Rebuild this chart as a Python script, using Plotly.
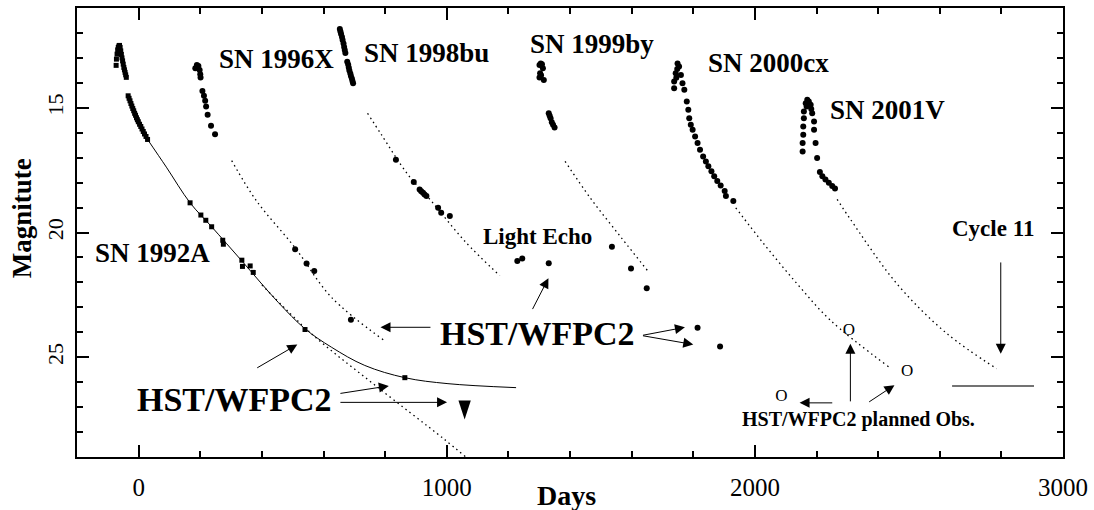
import plotly.graph_objects as go

FONT = "Liberation Serif"

# ---------------- data (days, magnitude) ----------------
sn92_day = [-73, -72, -70, -68, -66, -64, -62, -60, -58, -56, -54, -52, -50, -48, -46, -44, -42, -40,
            -34, -31, -28, -25, -22, -19, -16, -13, -10, -7, -4, -1, 3, 7, 11, 15, 19, 24, 29,
            167, 202, 218, 237, 273, 275, 335, 337, 362, 372]
sn92_mag = [13.30, 13.05, 12.85, 12.68, 12.58, 12.52, 12.50, 12.58, 12.72, 12.86, 13.00, 13.12, 13.25,
            13.38, 13.48, 13.58, 13.68, 13.78,
            14.52, 14.62, 14.72, 14.83, 14.93, 15.03, 15.12, 15.22, 15.30, 15.40, 15.48, 15.56, 15.66,
            15.75, 15.85, 15.95, 16.05, 16.15, 16.27,
            18.81, 19.30, 19.51, 19.77, 20.31, 20.47, 21.11, 21.36, 21.34, 21.60]
sn92_hst_day = [540, 864]
sn92_hst_mag = [23.89, 25.82]
# upper limit (tip of the downward arrow)
sn92_limit_day = [1058]
sn92_limit_mag = [27.50]

# model light curve of SN 1992A
curve92_day = [29, 90, 167, 237, 335, 453, 540, 626, 734, 864, 1004, 1225]
curve92_mag = [16.27, 17.38, 18.81, 19.77, 21.14, 22.80, 23.86, 24.60, 25.33, 25.82, 26.06, 26.22]
# pure decline extrapolation of SN 1992A (dotted)
dot92_day = [400, 561, 767, 988, 1062]
dot92_mag = [22.10, 24.06, 26.12, 28.25, 29.0]

sn96_day = [184, 189, 194, 198, 200, 201, 207, 212, 216, 219, 224, 235, 248, 508, 545, 570, 689]
sn96_mag = [13.42, 13.29, 13.33, 13.49, 13.66, 13.79, 14.33, 14.52, 14.72, 14.95, 15.28, 15.72, 16.06,
            20.67, 21.24, 21.54, 23.50]
dot96_day = [302, 383, 507, 626, 794]
dot96_mag = [17.12, 18.74, 20.60, 22.60, 24.30]

sn98_day = [653, 655, 657, 660, 662, 665, 667, 669, 671, 677, 680, 682, 684, 687, 689, 692, 694, 696,
            835, 893, 912, 917, 923, 928, 934, 972, 982, 1010]
sn98_mag = [11.84, 11.94, 12.04, 12.16, 12.28, 12.42, 12.56, 12.68, 12.80, 13.15, 13.27, 13.39, 13.51,
            13.63, 13.73, 13.83, 13.93, 14.02, 17.08, 17.98, 18.28, 18.35, 18.41, 18.48, 18.54, 19.01,
            19.21, 19.34]
dot98_day = [743, 788, 874, 950, 1058, 1172]
dot98_mag = [15.22, 16.08, 17.68, 18.74, 20.34, 21.73]

echo_day = [1229, 1245, 1331]
echo_mag = [21.14, 21.04, 21.23]

sn99_day = [1301, 1305, 1309, 1312, 1303, 1301, 1306, 1315, 1331, 1334, 1337, 1341, 1345, 1350,
            1536, 1598, 1649, 1814, 1887]
sn99_mag = [13.29, 13.22, 13.26, 13.42, 13.62, 13.79, 13.70, 13.89, 15.22, 15.32, 15.42, 15.58, 15.68,
            15.79, 20.57, 21.44, 22.23, 23.82, 24.57]
dot99_day = [1384, 1468, 1566, 1653]
dot99_mag = [17.15, 18.65, 20.20, 21.55]

sn00_day = [1749, 1754, 1743, 1738, 1738, 1760, 1765, 1771, 1748, 1745, 1779, 1784, 1787, 1792, 1798,
            1806, 1814, 1822, 1832, 1841, 1849, 1859, 1868, 1878, 1889, 1902, 1906, 1930]
sn00_mag = [13.22, 13.35, 13.62, 13.95, 14.22, 13.69, 14.02, 14.28, 13.45, 13.80, 14.75, 15.08, 15.42,
            15.68, 15.88, 16.15, 16.41, 16.68, 16.95, 17.15, 17.34, 17.54, 17.74, 17.94, 18.12, 18.34,
            18.54, 18.74]
dot00_day = [1938, 2030, 2138, 2246, 2435]
dot00_mag = [19.01, 20.47, 22.07, 23.53, 25.39]

sn01_day = [2170, 2165, 2181, 2175, 2168, 2183, 2159, 2159, 2157, 2157, 2155, 2155, 2186, 2192, 2192,
            2197, 2202, 2211, 2219, 2229, 2240, 2251, 2260]
sn01_mag = [14.68, 14.82, 14.88, 14.75, 14.95, 15.05, 15.15, 15.42, 15.75, 16.08, 16.41, 16.75, 15.22,
            15.55, 15.88, 16.41, 17.01, 17.57, 17.74, 17.88, 18.01, 18.14, 18.24]
dot01_day = [2267, 2310, 2462, 2624, 2785]
dot01_mag = [18.67, 19.47, 22.07, 24.06, 25.46]

planned_day = [2305, 2494, 2086]
planned_mag = [23.93, 25.59, 26.59]

cycle11_day = [2640, 2906]
cycle11_mag = [26.15, 26.15]

# text labels: (text, day, mag, size)
labels = [
    ("SN 1992A", 45, 20.82, 27),
    ("SN 1996X", 449, 13.06, 27),
    ("SN 1998bu", 933, 12.79, 27),
    ("SN 1999by", 1473, 12.46, 27),
    ("SN 2000cx", 2043, 13.22, 27),
    ("SN 2001V", 2431, 15.07, 27),
    ("Light Echo", 1295, 20.17, 23),
    ("Cycle 11", 2774, 19.83, 23),
    ("HST/WFPC2 planned Obs.", 2337, 27.48, 20),
    ("HST/WFPC2", 310, 26.68, 34),
    ("HST/WFPC2", 1295, 24.06, 34),
]

# arrows: (tail_day, tail_mag, head_day, head_mag)
arrows = [
    (380, 25.46, 515, 24.49),
    (650, 26.46, 812, 26.15),
    (650, 26.81, 1001, 26.81),
    (952, 23.80, 785, 23.80),
    (1276, 23.13, 1330, 21.83),
    (1632, 24.13, 1773, 23.80),
    (1632, 24.13, 1800, 24.49),
    (2798, 21.14, 2798, 24.86),
    (2256, 26.83, 2145, 26.83),
    (2310, 26.83, 2310, 24.46),
    (2366, 26.83, 2453, 26.12),
]

fig = go.Figure()

def add_line(x, y, dash="solid", shape="spline", color="black", width=1):
    fig.add_trace(go.Scatter(x=x, y=y, mode="lines", line=dict(color=color, width=width, dash=dash, shape=shape),
                             showlegend=False, hoverinfo="skip"))

def add_pts(x, y, symbol="circle", size=6, angle=0):
    fig.add_trace(go.Scatter(x=x, y=y, mode="markers",
                             marker=dict(symbol=symbol, size=size, color="black", angle=angle,
                                         line=dict(width=0)),
                             showlegend=False, hoverinfo="skip"))

DOT = "1.5px,3.5px"
add_line(curve92_day, curve92_mag)
for dx, dy in [(dot92_day, dot92_mag), (dot96_day, dot96_mag), (dot98_day, dot98_mag),
               (dot99_day, dot99_mag), (dot00_day, dot00_mag), (dot01_day, dot01_mag)]:
    add_line(dx, dy, dash=DOT, width=1.3)
add_line(cycle11_day, cycle11_mag, shape="linear", color="#444444", width=1.5)

add_pts(sn92_day, sn92_mag, "square", 5)
add_pts(sn92_hst_day, sn92_hst_mag, "square", 5)
add_pts(sn92_limit_day, sn92_limit_mag, "arrow", 20, angle=180)
add_pts(sn96_day, sn96_mag)
add_pts(sn98_day, sn98_mag)
add_pts(echo_day, echo_mag)
add_pts(sn99_day, sn99_mag)
add_pts(sn00_day, sn00_mag)
add_pts(sn01_day, sn01_mag)

fig.add_trace(go.Scatter(x=planned_day, y=planned_mag, mode="text", text=["O"] * len(planned_day),
                         textfont=dict(family=FONT, size=17, color="black"),
                         textposition="middle center", showlegend=False, hoverinfo="skip"))

annotations = []
for txt, x, y, s in labels:
    annotations.append(dict(text="<b>%s</b>" % txt, x=x, y=y, xref="x", yref="y", showarrow=False,
                            font=dict(family=FONT, size=s, color="black"),
                            xanchor="center", yanchor="middle"))
for tx, ty, hx, hy in arrows:
    annotations.append(dict(text="", x=hx, y=hy, ax=tx, ay=ty, xref="x", yref="y", axref="x", ayref="y",
                            showarrow=True, arrowhead=2, arrowsize=2, arrowwidth=1, arrowcolor="black",
                            standoff=0, startstandoff=0))
annotations.append(dict(text="<b>Days</b>", x=0.4965, y=-0.0865, xref="paper", yref="paper",
                        showarrow=False, font=dict(family=FONT, size=28, color="black"),
                        xanchor="center", yanchor="middle"))
annotations.append(dict(text="<b>Magnitute</b>", x=-0.0556, y=0.532, xref="paper", yref="paper",
                        showarrow=False, textangle=-90, font=dict(family=FONT, size=27, color="black"),
                        xanchor="center", yanchor="middle"))

axis_common = dict(showline=True, linecolor="black", linewidth=2, mirror="ticks", ticks="inside",
                   tickcolor="black", tickwidth=2, showgrid=False, zeroline=False)

fig.update_layout(
    width=1094, height=510, autosize=False,
    margin=dict(l=77, r=28, t=6, b=53),
    paper_bgcolor="white", plot_bgcolor="white",
    font=dict(family=FONT, color="black"),
    xaxis=dict(range=[-200, 3000], tick0=0, dtick=1000, ticklen=12,
               tickfont=dict(family=FONT, size=25, color="black"), ticklabelstandoff=7,
               minor=dict(dtick=200, tick0=0, ticks="inside", ticklen=6, tickwidth=2, tickcolor="black",
                          showgrid=False),
               **axis_common),
    yaxis=dict(range=[29, 11], tick0=15, dtick=5, ticklen=12, tickangle=-90,
               tickfont=dict(family=FONT, size=22, color="black"), ticklabelstandoff=3,
               minor=dict(dtick=1, tick0=0, ticks="inside", ticklen=6, tickwidth=2, tickcolor="black",
                          showgrid=False),
               **axis_common),
    annotations=annotations,
)

fig.write_html("out.html", config={"displayModeBar": False},
               post_script="document.body.style.margin='0px';")
